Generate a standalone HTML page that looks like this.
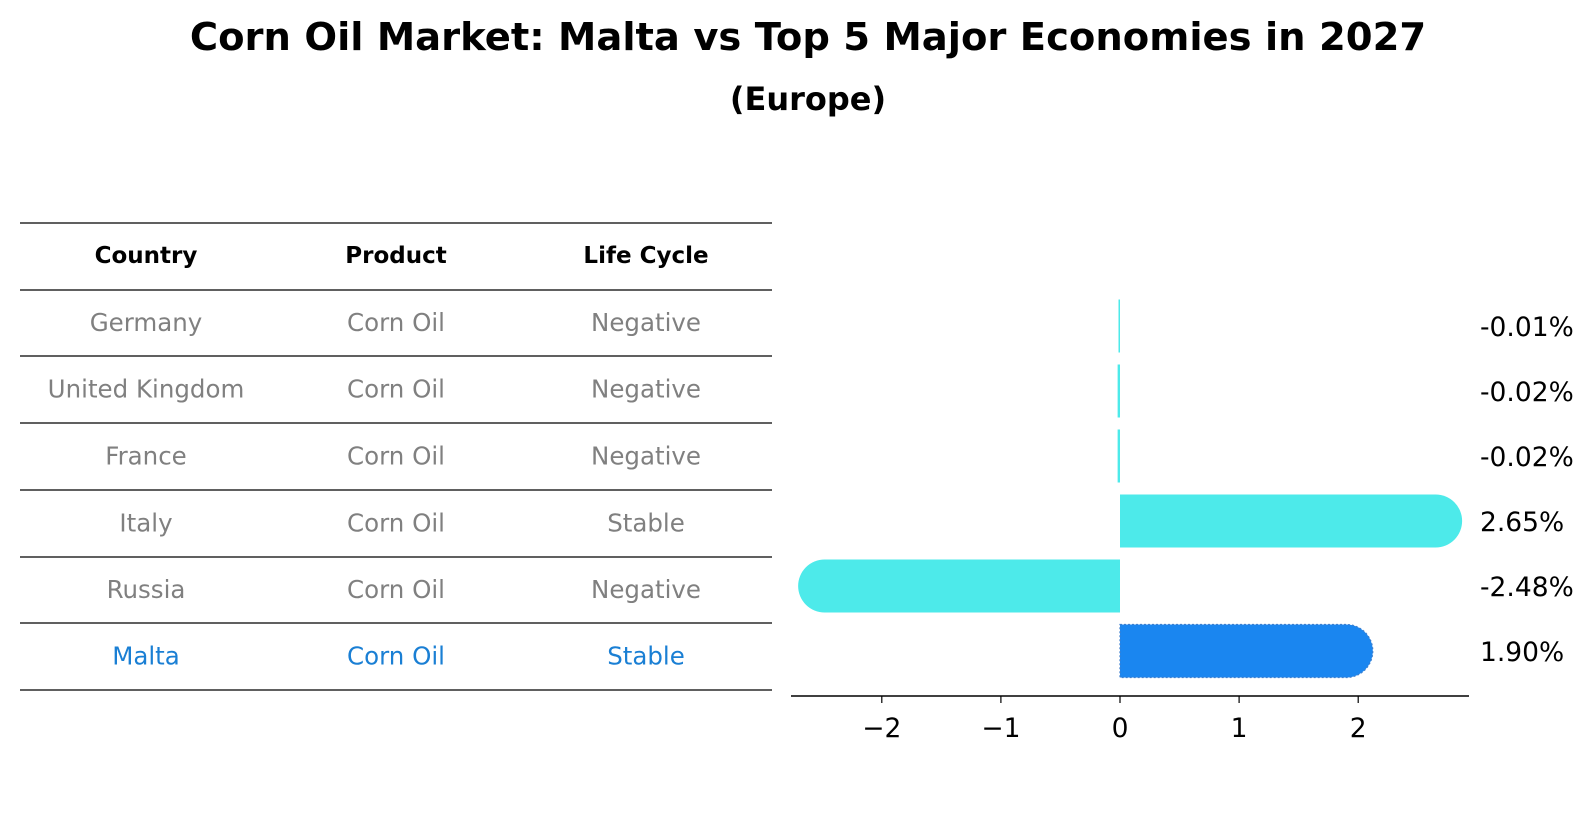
<!DOCTYPE html>
<html><head><meta charset="utf-8"><style>
body{margin:0;background:#fff;width:1596px;height:823px;overflow:hidden;font-family:"DejaVu Sans","Liberation Sans",sans-serif}
</style></head><body>
<svg width="1596" height="823" xmlns="http://www.w3.org/2000/svg">
<text x="808" y="50" text-anchor="middle" font-size="38.5" font-weight="bold">Corn Oil Market: Malta vs Top 5 Major Economies in 2027</text>
<text x="808" y="110" text-anchor="middle" font-size="32" font-weight="bold">(Europe)</text>
<g id="table"></g>
<g id="bars"></g>
</svg>
<script>
const countries=["Germany","United Kingdom","France","Italy","Russia","Malta"];
const products=["Corn Oil","Corn Oil","Corn Oil","Corn Oil","Corn Oil","Corn Oil"];
const lifecycle=["Negative","Negative","Negative","Stable","Negative","Stable"];
const values=[-0.01,-0.02,-0.02,2.65,-2.48,1.90];
const ticks=[-2,-1,0,1,2];
const NS="http://www.w3.org/2000/svg";
function mk(t,a,p){const e=document.createElementNS(NS,t);for(const k in a)e.setAttribute(k,a[k]);p.appendChild(e);return e;}
const tb=document.getElementById('table'),bg=document.getElementById('bars');
const lines=[223,290,356,423,490,557,623,690];
lines.forEach((y,i)=>{const l=mk('line',{x1:20,x2:772,y1:y,y2:y,stroke:'#000','stroke-width':1.2},tb);

});
const colX=[146,396,646];
["Country","Product","Life Cycle"].forEach((h,i)=>{const t=mk('text',{x:colX[i],y:263,'text-anchor':'middle','font-size':23,'font-weight':'bold'},tb);t.textContent=h;

});
const rowY=i=>(lines[i+1]+lines[i+2])/2+8;
countries.forEach((c,i)=>{const col=i==countries.length-1?'#1a7fd4':'#808080';
[c,products[i],lifecycle[i]].forEach((v,j)=>{const t=mk('text',{x:colX[j],y:rowY(i),'text-anchor':'middle','font-size':24.5,fill:col},tb);t.textContent=v;

});});
const x0=1120,unit=119.1,xs=v=>x0+v*unit;
const rowC=[326,391,456,521,586,651],bh=53,r=26.5;
values.forEach((v,i)=>{const y=rowC[i]-bh/2,last=i==values.length-1,col=last?'#1a86f0':'#4deaea';
const x1=xs(v),w=Math.abs(x1-x0);let d;
if(w<r){const ww=Math.max(w,1.5)*(v<0?-1:1);d=`M${x0} ${y}h${ww}v${bh}h${-ww}z`;}
else if(v>=0){d=`M${x0} ${y}H${x1}A${r} ${r} 0 0 1 ${x1} ${y+bh}H${x0}Z`;}
else{d=`M${x0} ${y}H${x1}A${r} ${r} 0 0 0 ${x1} ${y+bh}H${x0}Z`;}
const p=mk('path',{d:d,fill:col},bg);
if(last){p.setAttribute('stroke','#3d7fcf');p.setAttribute('stroke-dasharray','2 2');p.setAttribute('stroke-width','1.2');}


const t=mk('text',{x:1480,y:rowC[i]+10,'font-size':26.5},bg);t.textContent=(v<0?'-':'')+Math.abs(v).toFixed(2)+'%';

});
const ax=mk('line',{x1:791,x2:1469,y1:696,y2:696,stroke:'#000','stroke-width':1.5},bg);


ticks.forEach(v=>{const l=mk('line',{x1:xs(v),x2:xs(v),y1:696,y2:703,stroke:'#000','stroke-width':1.2},bg);


const t=mk('text',{x:xs(v),y:737,'text-anchor':'middle','font-size':26.5},bg);t.textContent=v<0?'\u2212'+Math.abs(v):v;

});
</script>
</body></html>
